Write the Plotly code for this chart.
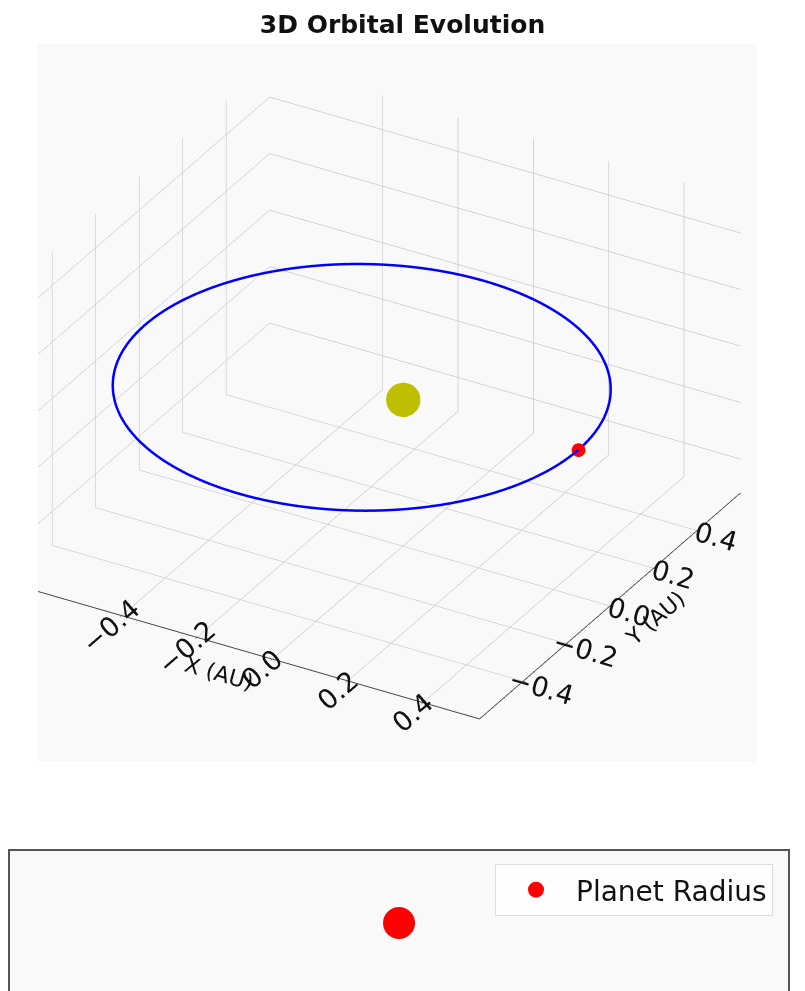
import numpy as np
import plotly.graph_objects as go

# ---- data ----
semi_major_axis = 0.575      # AU
eccentricity = 0.19
sun_pos = [0.0, 0.0, 0.0]
planet_pos = [0.466, 0.0, 0.0]
axis_ticks = [-0.4, -0.2, 0.0, 0.2, 0.4]
tick_text = ["\u22120.4", "\u22120.2", "0.0", "0.2", "0.4"]
radius_x = [0.0]
radius_y = [1.0]

# orbit (ellipse with the Sun at a focus)
theta = np.linspace(0, 2 * np.pi, 361)
a = semi_major_axis
e = eccentricity
r = a * (1 - e ** 2) / (1 + e * np.cos(theta))
orb_x = r * np.cos(theta)
orb_y = r * np.sin(theta)
orb_z = np.zeros_like(theta)

W, H = 805, 991
FONT = "DejaVu Sans"
BG = "#f9f9f9"

fig = go.Figure()
fig.add_trace(go.Scatter3d(x=orb_x, y=orb_y, z=orb_z, mode="lines",
                           line=dict(color="#0000ff", width=5), showlegend=False,
                           hoverinfo="skip"))
fig.add_trace(go.Scatter3d(x=[sun_pos[0]], y=[sun_pos[1]], z=[sun_pos[2]], mode="markers",
                           marker=dict(color="#bfbf00", size=20, line=dict(width=0)),
                           showlegend=False))
fig.add_trace(go.Scatter3d(x=[planet_pos[0]], y=[planet_pos[1]], z=[planet_pos[2]], mode="markers",
                           marker=dict(color="#ff0000", size=8, line=dict(width=0)),
                           showlegend=False))

fig.add_trace(go.Scatter(x=radius_x, y=radius_y, mode="markers", name="Planet Radius",
                         marker=dict(color="#ff0000", size=32), xaxis="x", yaxis="y"))

xr = [-0.70, 0.55]
yr = [-0.60, 0.60]
zr = [-0.52, 0.52]
axcommon = dict(tickvals=axis_ticks, ticktext=tick_text,
                showbackground=False, gridcolor="#c8c8c8", gridwidth=1.5,
                showline=True, linecolor="#444444", linewidth=2,
                zeroline=False, showspikes=False, ticks="outside", tickcolor="#444444",
                ticklen=4, tickfont=dict(family=FONT, size=18, color="#111111"),
                autorange=False)
unit = zr[1] - zr[0]
k = 1.26
d = 1.5
s = 361.0
right = np.array([0.866, 0.5, 0.0])
up = np.array([-0.25, 0.433, 0.866])
ctr = (23 / s) * right - (12 / s) * up

fig.update_layout(
    width=W, height=H,
    margin=dict(l=0, r=0, t=0, b=0),
    paper_bgcolor="white",
    font=dict(family=FONT, color="#111111"),
    title=dict(text="<b>3D Orbital Evolution</b>", x=0.5, xanchor="center",
               y=1 - 24 / H, yanchor="middle", font=dict(family=FONT, size=25, color="#111111")),
    scene=dict(
        domain=dict(x=[38 / W, 757 / W], y=[1 - 762 / H, 1 - 44 / H]),
        bgcolor=BG,
        xaxis=dict(axcommon, range=xr, title=dict(text="X (AU)", font=dict(family=FONT, size=22))),
        yaxis=dict(axcommon, range=yr, title=dict(text="Y (AU)", font=dict(family=FONT, size=22))),
        zaxis=dict(axcommon, range=zr, title=dict(text="Z (AU)", font=dict(family=FONT, size=22))),
        aspectmode="manual",
        aspectratio=dict(x=k * (xr[1] - xr[0]) / unit, y=k * (yr[1] - yr[0]) / unit, z=k * 0.75),
        camera=dict(eye=dict(x=0.433 * d + ctr[0], y=-0.75 * d + ctr[1], z=0.5 * d + ctr[2]),
                    center=dict(x=ctr[0], y=ctr[1], z=ctr[2]),
                    projection=dict(type="orthographic")),
    ),
    xaxis=dict(domain=[10 / W, 788 / W], range=[-0.055, 0.055], side="top",
               showline=True, linecolor="#555555", linewidth=2, mirror=False,
               showticklabels=False, ticks="", showgrid=False, zeroline=False, anchor="y"),
    yaxis=dict(domain=[0, 1 - 851 / H], range=[1 - 0.486 * 0.2, 1 + 0.514 * 0.2],
               showline=True, linecolor="#555555", linewidth=2, mirror=True,
               showticklabels=False, ticks="", showgrid=False, zeroline=False, anchor="x"),
    plot_bgcolor=BG,
    showlegend=True,
    legend=dict(x=773 / W, xanchor="right", y=1 - 864 / H, yanchor="top",
                bgcolor="rgba(255,255,255,0.8)", bordercolor="#dddddd", borderwidth=1,
                font=dict(family=FONT, size=28, color="#111111"), itemsizing="trace",
                itemwidth=70),
)

fig.write_html("out.html")
